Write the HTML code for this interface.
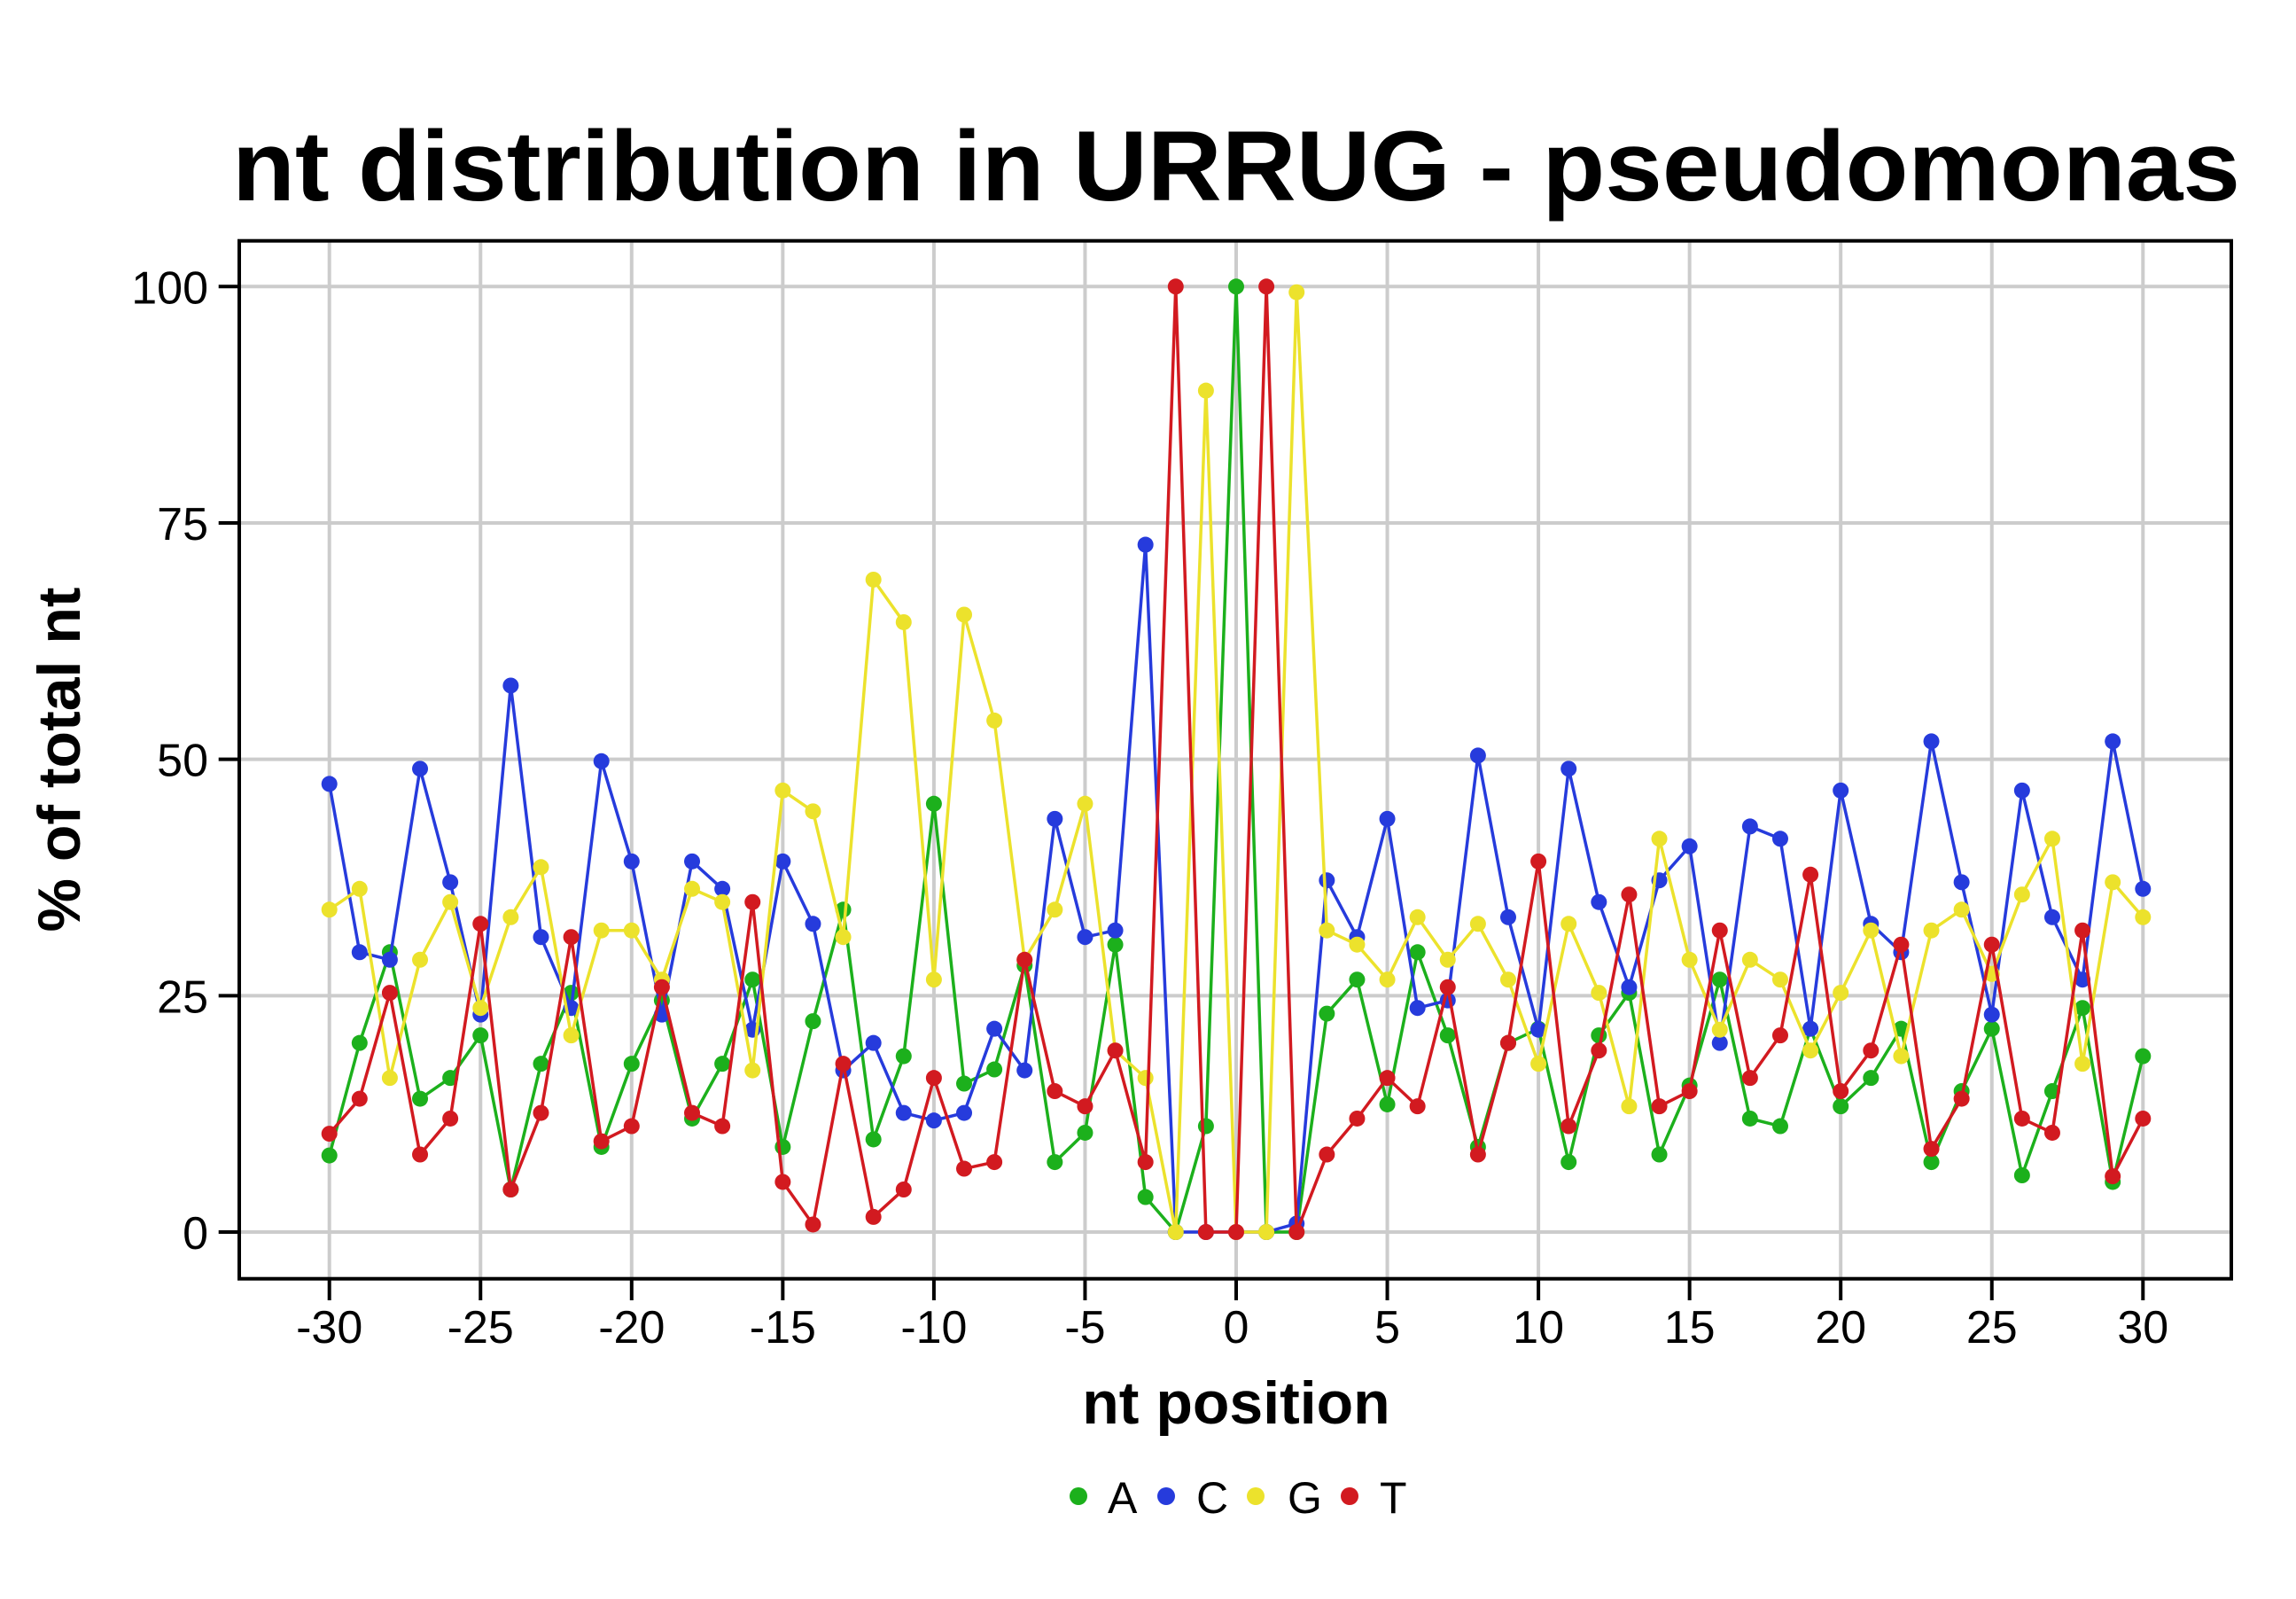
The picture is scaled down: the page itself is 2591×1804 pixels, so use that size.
<!DOCTYPE html>
<html><head><meta charset="utf-8"><style>
html,body{margin:0;padding:0;background:#fff;}
svg{display:block;font-family:"Liberation Sans",Arial,sans-serif;}
</style></head><body>
<svg id="chart" width="2591" height="1804" viewBox="0 0 2591 1804" xmlns="http://www.w3.org/2000/svg">
<rect width="2591" height="1804" fill="#fff"/>
<text x="1395" y="226" text-anchor="middle" font-weight="bold" font-size="112" textLength="2266" lengthAdjust="spacingAndGlyphs">nt distribution in URRUG - pseudomonas</text>
<g id="grid"></g>
<g id="series"></g>
<rect x="270" y="271.7" width="2248" height="1171" fill="none" stroke="#000" stroke-width="4"/>
<g id="axes"></g>
<text x="1395" y="1606" text-anchor="middle" font-weight="bold" font-size="68">nt position</text>
<text transform="translate(90,857) rotate(-90)" text-anchor="middle" font-weight="bold" font-size="68">% of total nt</text>
<g>
<circle cx="1217" cy="1688" r="10" fill="#1cb01c"/>
<text x="1250" y="1707" font-size="50">A</text>
<circle cx="1316" cy="1688" r="10" fill="#263bdc"/>
<text x="1350" y="1707" font-size="50">C</text>
<circle cx="1417" cy="1688" r="10" fill="#ece22c"/>
<text x="1453" y="1707" font-size="50">G</text>
<circle cx="1523" cy="1688" r="10" fill="#d21a20"/>
<text x="1557" y="1707" font-size="50">T</text>
</g>
</svg>
<script>
const positions = [];
for (let p = -30; p <= 30; p++) positions.push(p);
const seriesA = [8.1,20,29.6,14.1,16.3,20.8,4.5,17.8,25.3,9,17.8,24.5,12,17.8,26.7,9,22.3,34.1,9.8,18.6,45.3,15.7,17.2,28.2,7.4,10.5,30.4,3.7,0,11.2,100,0,0,23.1,26.7,13.5,29.6,20.8,9,20,21.5,7.4,20.8,25.3,8.2,15.5,26.7,12,11.2,21.5,13.3,16.3,21.5,7.4,14.9,21.5,6,14.9,23.7,5.3,18.6];
const seriesC = [47.4,29.6,28.8,49,37,23,57.8,31.2,23.7,49.8,39.2,23,39.2,36.3,21.4,39.2,32.6,17.1,20,12.6,11.8,12.6,21.5,17.1,43.7,31.2,31.9,72.7,0,0,0,0,0.9,37.2,31.2,43.7,23.7,24.5,50.4,33.3,21.4,49,34.9,25.9,37.2,40.8,20,42.9,41.6,21.5,46.7,32.6,29.6,51.9,37,23,46.7,33.3,26.7,51.9,36.3];
const seriesG = [34.1,36.3,16.3,28.8,34.9,23.7,33.3,38.6,20.8,31.9,31.9,26.7,36.3,34.9,17.1,46.7,44.5,31.2,69,64.5,26.7,65.3,54.1,28.8,34.1,45.3,19.2,16.3,0,89,0,0,99.4,31.9,30.4,26.7,33.3,28.8,32.6,26.7,17.8,32.6,25.3,13.3,41.6,28.8,21.4,28.8,26.7,19.2,25.3,31.9,18.6,31.9,34.1,27.3,35.7,41.6,17.8,37,33.3];
const seriesT = [10.4,14.1,25.3,8.2,12,32.6,4.5,12.6,31.2,9.6,11.2,25.9,12.6,11.2,34.9,5.3,0.8,17.8,1.6,4.5,16.3,6.7,7.4,28.8,14.9,13.3,19.2,7.4,100,0,0,100,0,8.2,12,16.3,13.3,25.9,8.2,20,39.2,11.2,19.2,35.7,13.3,14.9,31.9,16.3,20.8,37.8,14.9,19.2,30.4,8.8,14.1,30.4,12,10.5,31.9,5.9,12];
const xTicks = [-30,-25,-20,-15,-10,-5,0,5,10,15,20,25,30];
const yTicks = [0,25,50,75,100];

const NS = "http://www.w3.org/2000/svg";
function xs(v){ return 371.7 + (v + 30) * 34.11; }
function ys(v){ return 1390 - v * 10.667; }
function mk(tag, attrs, parent){ const e=document.createElementNS(NS,tag); for(const k in attrs) e.setAttribute(k, attrs[k]); parent.appendChild(e); return e; }

const grid = document.getElementById('grid');
const axes = document.getElementById('axes');
xTicks.forEach(t => {
  const g = mk('line',{x1:xs(t),x2:xs(t),y1:271.7,y2:1442.7,stroke:'#cccccc','stroke-width':4},grid);
  
  
  const tk = mk('line',{x1:xs(t),x2:xs(t),y1:1442.7,y2:1467,stroke:'#000','stroke-width':4},axes);
  
  
  const lb = mk('text',{x:xs(t),y:1515,'text-anchor':'middle','font-size':52},axes);
  lb.textContent = String(t);
  
  
});
yTicks.forEach(t => {
  const g = mk('line',{x1:270,x2:2518,y1:ys(t),y2:ys(t),stroke:'#cccccc','stroke-width':4},grid);
  
  
  const tk = mk('line',{x1:246.7,x2:270,y1:ys(t),y2:ys(t),stroke:'#000','stroke-width':4},axes);
  
  
  const lb = mk('text',{x:235,y:ys(t)+19,'text-anchor':'end','font-size':52},axes);
  lb.textContent = String(t);
  
  
});

const seriesG_el = document.getElementById('series');
const all = [['a',seriesA,'#1cb01c'],['c',seriesC,'#263bdc'],['g',seriesG,'#ece22c'],['t',seriesT,'#d21a20']];
all.forEach(([name, vals, col]) => {
  const grp = mk('g',{},seriesG_el);
  
  
  const pts = positions.map((p,i)=>xs(p)+','+ys(vals[i])).join(' ');
  const pl = mk('polyline',{points:pts,fill:'none',stroke:col,'stroke-width':3.5,'stroke-linejoin':'round'},grp);
  
  
  positions.forEach((p,i)=>{
    const c = mk('circle',{cx:xs(p),cy:ys(vals[i]),r:9,fill:col},grp);
    
    
  });
});
</script>
</body></html>
